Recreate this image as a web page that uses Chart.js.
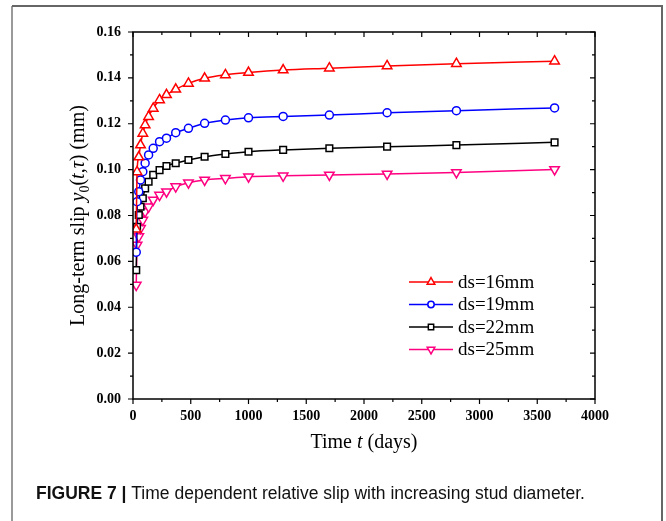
<!DOCTYPE html>
<html>
<head>
<meta charset="utf-8">
<script src="https://cdn.jsdelivr.net/npm/chart.js@4.4.1/dist/chart.umd.min.js"></script>
<style>
  html, body { margin: 0; padding: 0; background: #fff; }
  canvas { display: block; }
</style>
</head>
<body>
<canvas id="slipChart" width="666" height="521"></canvas>
<script>
// time (days) and long-term slip (mm)
const days = [28, 35, 50, 65, 85, 105, 135, 175, 230, 290, 370, 480, 620, 800, 1000, 1300, 1700, 2200, 2800, 3650];
const slip16 = [0.074, 0.099, 0.1055, 0.1107, 0.1158, 0.1195, 0.1231, 0.1267, 0.1304, 0.1326, 0.135, 0.1376, 0.1398, 0.1413, 0.1423, 0.1434, 0.1442, 0.1452, 0.1462, 0.1473];
const slip19 = [0.064, 0.086, 0.0904, 0.0955, 0.0991, 0.1028, 0.1064, 0.1093, 0.1122, 0.1137, 0.1161, 0.118, 0.1202, 0.1216, 0.1226, 0.1232, 0.1238, 0.1248, 0.1257, 0.1269];
const slip22 = [0.0562, 0.0751, 0.0802, 0.0838, 0.0875, 0.0918, 0.0947, 0.0977, 0.0998, 0.1016, 0.1028, 0.1042, 0.1056, 0.1068, 0.1078, 0.1086, 0.1093, 0.11, 0.1107, 0.1119];
const slip25 = [0.0497, 0.0671, 0.0708, 0.0744, 0.078, 0.0817, 0.0838, 0.0868, 0.0889, 0.0904, 0.0926, 0.0943, 0.0955, 0.0962, 0.0969, 0.0973, 0.0977, 0.0981, 0.0988, 0.1001];
const seriesNames = ["ds=16mm", "ds=19mm", "ds=22mm", "ds=25mm"];
const xTickStep = 500;
const yTickStep = 0.02;

const SERIF = "'Liberation Serif', 'Times New Roman', serif";
const SANS = "'Liberation Sans', Arial, sans-serif";

function series(label, values, color, style, radius, rotation) {
  return {
    label: label,
    data: days.map((d, i) => ({ x: d, y: values[i] })),
    borderColor: color,
    backgroundColor: "#fff",
    borderWidth: 1.5,
    pointStyle: style,
    pointRadius: radius,
    pointRotation: rotation,
    pointBorderWidth: 1.5,
    pointBorderColor: color,
    pointBackgroundColor: "#fff",
    cubicInterpolationMode: "monotone"
  };
}

const datasets = [
  series(seriesNames[0], slip16, "#ff0000", "triangle", 5.5, 0),
  series(seriesNames[1], slip19, "#0000ff", "circle", 4, 0),
  series(seriesNames[2], slip22, "#000000", "rect", 4.7, 0),
  series(seriesNames[3], slip25, "#ff0080", "triangle", 5.5, 180)
];

// frame, box, ticks, axis titles, legend and caption
const decorations = {
  id: "decorations",
  afterDraw(chart) {
    const ctx = chart.ctx;
    const a = chart.chartArea;
    const xs = chart.scales.x;
    const ys = chart.scales.y;
    ctx.save();

    // outer frame
    ctx.lineWidth = 2;
    ctx.strokeStyle = "#9a9a9a";
    ctx.beginPath();
    ctx.moveTo(12, 521); ctx.lineTo(12, 6); ctx.stroke();
    ctx.strokeStyle = "#666";
    ctx.beginPath();
    ctx.moveTo(12, 6); ctx.lineTo(662, 6); ctx.lineTo(662, 521); ctx.stroke();

    // plot box
    ctx.strokeStyle = "#000";
    ctx.lineWidth = 1.5;
    ctx.strokeRect(a.left, a.top, a.right - a.left, a.bottom - a.top);

    // ticks
    ctx.lineWidth = 1.2;
    ctx.beginPath();
    for (let v = 0; v <= 4000; v += 250) {
      const px = xs.getPixelForValue(v);
      const len = v % 500 === 0 ? 5 : 3;
      ctx.moveTo(px, a.bottom); ctx.lineTo(px, a.bottom + len);
      ctx.moveTo(px, a.top); ctx.lineTo(px, a.top + len);
    }
    for (let k = 0; k <= 16; k++) {
      const py = ys.getPixelForValue(k * 0.01);
      const len = k % 2 === 0 ? 5 : 3;
      ctx.moveTo(a.left, py); ctx.lineTo(a.left - len, py);
      ctx.moveTo(a.right, py); ctx.lineTo(a.right - len, py);
    }
    ctx.stroke();

    // x title: Time t (days)
    ctx.fillStyle = "#000";
    ctx.textBaseline = "alphabetic";
    const parts = [["Time ", "normal"], ["t", "italic"], [" (days)", "normal"]];
    let total = 0;
    parts.forEach(p => { ctx.font = p[1] + " 20px " + SERIF; total += ctx.measureText(p[0]).width; });
    let cx = (a.left + a.right) / 2 - total / 2;
    parts.forEach(p => {
      ctx.font = p[1] + " 20px " + SERIF;
      ctx.fillText(p[0], cx, 448);
      cx += ctx.measureText(p[0]).width;
    });

    // y title: Long-term slip y0(t,τ) (mm)
    ctx.save();
    ctx.translate(84, (a.top + a.bottom) / 2);
    ctx.rotate(-Math.PI / 2);
    const yp = [
      ["Long-term slip ", "normal 20px", 0],
      ["y", "italic 20px", 0],
      ["0", "normal 14px", 5],
      ["(", "normal 20px", 0],
      ["t", "italic 20px", 0],
      [",", "normal 20px", 0],
      ["\u03c4", "italic 20px", 0],
      [") (mm)", "normal 20px", 0]
    ];
    let yt = 0;
    yp.forEach(p => { ctx.font = p[1] + " " + SERIF; yt += ctx.measureText(p[0]).width; });
    let yx = -yt / 2;
    yp.forEach(p => {
      ctx.font = p[1] + " " + SERIF;
      ctx.fillText(p[0], yx, p[2]);
      yx += ctx.measureText(p[0]).width;
    });
    ctx.restore();

    // legend
    chart.data.datasets.forEach((ds, i) => {
      const ly = 282 + i * 22.5;
      ctx.strokeStyle = ds.borderColor;
      ctx.lineWidth = 1.5;
      ctx.beginPath();
      ctx.moveTo(409, ly); ctx.lineTo(453, ly); ctx.stroke();
      ctx.fillStyle = "#fff";
      Chart.helpers.drawPoint(ctx, {
        pointStyle: ds.pointStyle,
        radius: ds.pointRadius * 0.8,
        rotation: ds.pointRotation,
        borderWidth: 1.5
      }, 431, ly);
      ctx.fillStyle = "#000";
      ctx.font = "19px " + SERIF;
      ctx.textBaseline = "middle";
      ctx.fillText(ds.label, 458, ly + 1);
    });

    // caption
    ctx.textBaseline = "alphabetic";
    ctx.fillStyle = "#111";
    ctx.font = "bold 17.5px " + SANS;
    const lead = "FIGURE 7 | ";
    ctx.fillText(lead, 36, 499);
    const w = ctx.measureText(lead).width;
    ctx.font = "17.5px " + SANS;
    ctx.fillText("Time dependent relative slip with increasing stud diameter.", 36 + w, 499);

    ctx.restore();
  }
};

new Chart(document.getElementById("slipChart"), {
  type: "line",
  data: { datasets: datasets },
  options: {
    responsive: false,
    animation: false,
    layout: { padding: { left: 0, top: 32, right: 71, bottom: 0 } },
    plugins: { legend: { display: false }, tooltip: { enabled: false } },
    scales: {
      x: {
        type: "linear",
        min: 0,
        max: 4000,
        grid: { display: false, drawTicks: false },
        border: { display: false },
        ticks: {
          stepSize: xTickStep,
          maxRotation: 0,
          padding: 9,
          color: "#000",
          font: { family: SERIF, size: 14, weight: "bold" },
          callback: v => String(v)
        },
        afterFit: s => { s.height = 122; }
      },
      y: {
        min: 0,
        max: 0.16,
        grid: { display: false, drawTicks: false },
        border: { display: false },
        ticks: {
          stepSize: yTickStep,
          padding: 12,
          color: "#000",
          font: { family: SERIF, size: 14, weight: "bold" },
          callback: v => v.toFixed(2)
        },
        afterFit: s => { s.width = 133; }
      }
    }
  },
  plugins: [decorations]
});
</script>
</body>
</html>
